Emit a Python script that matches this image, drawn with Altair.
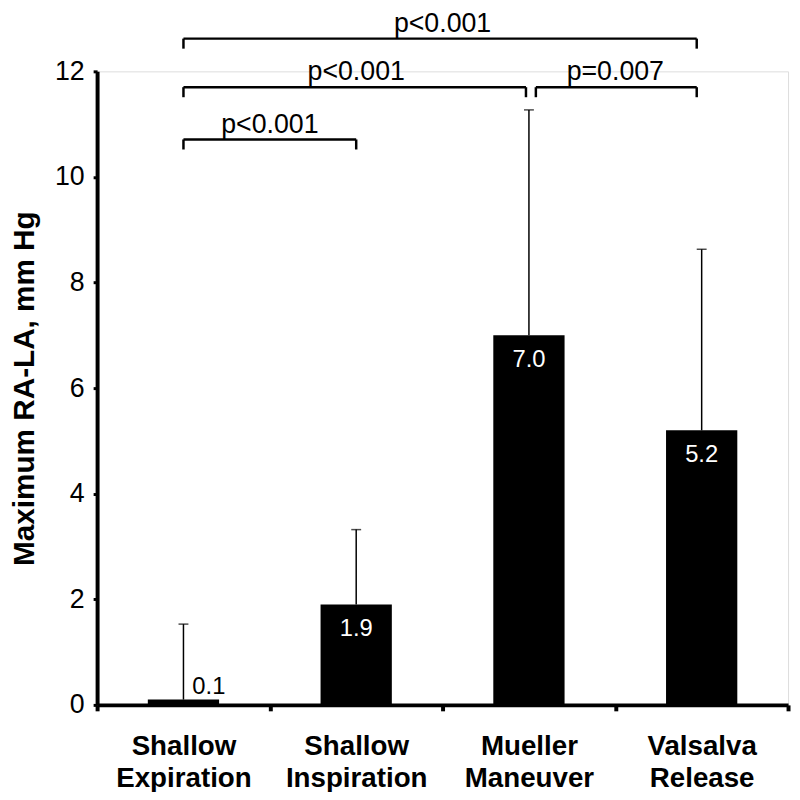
import altair as alt
import pandas as pd

categories = ["Shallow Expiration", "Shallow Inspiration", "Mueller Maneuver", "Valsalva Release"]
means = [0.1, 1.9, 7.0, 5.2]
sds = [1.43, 1.42, 4.27, 3.43]
value_labels = ["0.1", "1.9", "7.0", "5.2"]

bracket_start = [0, 0, 2, 0]      # category index
bracket_end = [3, 2, 3, 1]
bracket_level = [12.62, 11.70, 11.70, 10.71]
bracket_text = ["p<0.001", "p<0.001", "p=0.007", "p<0.001"]
# small pixel nudges of bracket ends (style)
bracket_nudge_start = [0, 0, 7, 0]
bracket_nudge_end = [-5, -3, -5, 0]
bracket_drop = 0.19

FONT = "Liberation Sans"

df = pd.DataFrame({
    "cat": categories,
    "mean": means,
    "sd": sds,
    "lab": value_labels,
})
df["upper"] = df["mean"] + df["sd"]

bandscale = alt.Scale(paddingInner=0, paddingOuter=0)
xband = alt.X("cat:N", sort=categories, scale=bandscale,
              axis=alt.Axis(title=None, labelExpr="split(datum.label, ' ')",
                            labelAngle=0, labelFont=FONT, labelFontSize=28,
                            labelFontWeight="bold", labelColor="black",
                            labelLineHeight=32, labelPadding=22,
                            tickBand="extent", tickSize=6, tickWidth=4,
                            tickColor="black", domainColor="black",
                            domainWidth=4))
xplain = alt.X("cat:N", sort=categories, scale=bandscale)

yscale = alt.Scale(domain=[0, 12], nice=False, zero=True)
yax = alt.Y("mean:Q", scale=yscale,
            axis=alt.Axis(title="Maximum RA-LA, mm Hg", values=[0, 2, 4, 6, 8, 10, 12],
                          titleFont=FONT, titleFontSize=30, titleFontWeight="bold",
                          titleColor="black", titlePadding=15,
                          labelFont=FONT, labelFontSize=27, labelColor="black",
                          labelPadding=9, tickSize=4, tickWidth=3, tickColor="black",
                          domainColor="black", domainWidth=4, grid=False))

base = alt.Chart(df)
bars = base.mark_bar(width=72, color="black").encode(x=xband, y=yax)
err = base.mark_rule(color="black", strokeWidth=1.5).encode(
    x=xplain, y=alt.Y("mean:Q", scale=yscale), y2="upper:Q")
cap = base.mark_tick(color="black", size=10, thickness=1.5).encode(
    x=xplain, y=alt.Y("upper:Q", scale=yscale))
txt_in = base.transform_filter("datum.mean >= 1").mark_text(
    color="white", font=FONT, fontSize=24, baseline="top", dy=13).encode(
    x=xplain, y=alt.Y("mean:Q", scale=yscale), text="lab:N")
txt_out = base.transform_filter("datum.mean < 1").mark_text(
    color="black", font=FONT, fontSize=24, baseline="alphabetic", align="left",
    dx=9, dy=-6).encode(
    x=xplain, y=alt.Y("mean:Q", scale=yscale), text="lab:N")

main = alt.layer(bars, err, cap, txt_in, txt_out)

bdf = pd.DataFrame({
    "k": list(range(len(bracket_text))),
    "s": [i + 0.5 for i in bracket_start],
    "e": [i + 0.5 for i in bracket_end],
    "lvl": bracket_level,
    "t": bracket_text,
})
bdf["bot"] = bdf["lvl"] - bracket_drop
bdf["mid"] = (bdf["s"] + bdf["e"]) / 2

xl = alt.Scale(domain=[0, len(categories)], nice=False, zero=False)
blayers = []
for k in range(len(bracket_text)):
    src = alt.Chart(bdf[bdf["k"] == k])
    ns, ne = bracket_nudge_start[k], bracket_nudge_end[k]
    blayers.append(src.mark_rule(color="black", strokeWidth=2.5, xOffset=ns, x2Offset=ne).encode(
        x=alt.X("s:Q", scale=xl, axis=None), x2="e:Q",
        y=alt.Y("lvl:Q", scale=yscale)))
    blayers.append(src.mark_rule(color="black", strokeWidth=2.5, xOffset=ns).encode(
        x=alt.X("s:Q", scale=xl, axis=None),
        y=alt.Y("lvl:Q", scale=yscale), y2="bot:Q"))
    blayers.append(src.mark_rule(color="black", strokeWidth=2.5, xOffset=ne).encode(
        x=alt.X("e:Q", scale=xl, axis=None),
        y=alt.Y("lvl:Q", scale=yscale), y2="bot:Q"))
    blayers.append(src.mark_text(color="black", font=FONT, fontSize=27,
                                 baseline="alphabetic", dy=-7).encode(
        x=alt.X("mid:Q", scale=xl, axis=None),
        y=alt.Y("lvl:Q", scale=yscale), text="t:N"))

brackets = alt.layer(*blayers)

chart = alt.layer(main, brackets).resolve_scale(x="independent").properties(
    width=698, height=640,
    autosize=alt.AutoSizeParams(type="none"),
    padding={"left": 90, "top": 60, "right": 4, "bottom": 84},
).configure_view(stroke=None).configure(background="white")

chart.save("out.html", embed_options={"renderer": "svg", "actions": False})
